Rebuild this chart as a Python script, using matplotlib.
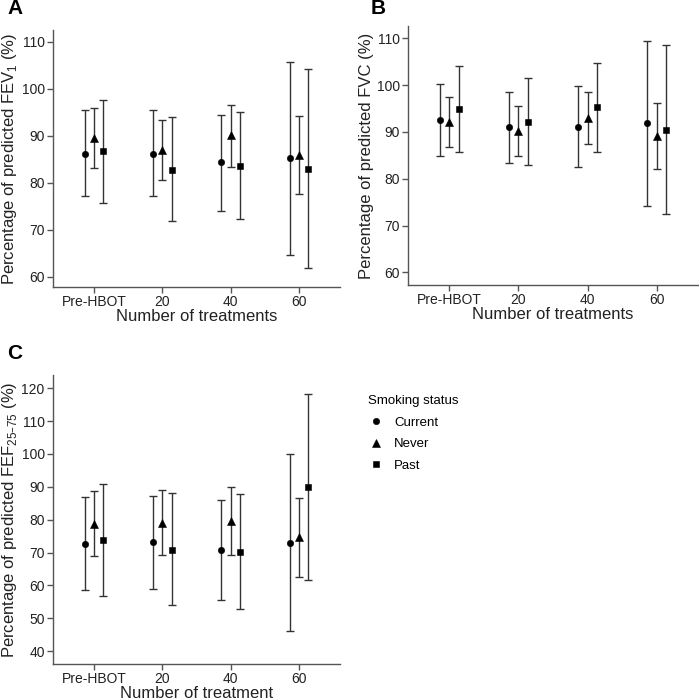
import matplotlib
matplotlib.use("Agg")
import matplotlib.pyplot as plt
from matplotlib.lines import Line2D
import numpy as np

plt.rcParams['font.family'] = ['Liberation Sans', 'DejaVu Sans']

categories = ["Pre-HBOT", "20", "40", "60"]
groups = ["Current", "Never", "Past"]

# Panel A: FEV1 (mean, lower, upper)
fev1_mean = {"Current": [86.2, 86.2, 84.3, 85.2],
             "Never":   [89.5, 87.0, 90.1, 86.0],
             "Past":    [86.7, 82.8, 83.6, 83.0]}
fev1_low = {"Current": [77.2, 77.2, 74.0, 64.7],
            "Never":   [83.1, 80.5, 83.3, 77.5],
            "Past":    [75.7, 71.8, 72.2, 61.8]}
fev1_high = {"Current": [95.4, 95.4, 94.5, 105.7],
             "Never":   [95.8, 93.3, 96.6, 94.1],
             "Past":    [97.6, 93.9, 95.0, 104.1]}

# Panel B: FVC
fvc_mean = {"Current": [92.5, 91.0, 91.1, 91.8],
            "Never":   [92.1, 90.2, 93.0, 89.2],
            "Past":    [94.9, 92.2, 95.2, 90.5]}
fvc_low = {"Current": [84.8, 83.4, 82.5, 74.2],
           "Never":   [86.7, 84.8, 87.3, 82.1],
           "Past":    [85.8, 82.9, 85.6, 72.4]}
fvc_high = {"Current": [100.2, 98.6, 99.7, 109.3],
            "Never":   [97.4, 95.5, 98.6, 96.2],
            "Past":    [104.1, 101.4, 104.8, 108.5]}

# Panel C: FEF25-75
fef_mean = {"Current": [72.6, 73.1, 70.7, 73.0],
            "Never":   [78.7, 79.1, 79.6, 74.7],
            "Past":    [73.8, 70.9, 70.2, 89.9]}
fef_low = {"Current": [58.5, 58.9, 55.5, 46.1],
           "Never":   [68.8, 69.2, 69.3, 62.6],
           "Past":    [56.7, 53.9, 52.8, 61.5]}
fef_high = {"Current": [86.8, 87.3, 86.1, 99.9],
            "Never":   [88.6, 89.1, 89.8, 86.6],
            "Past":    [90.8, 88.2, 87.7, 118.2]}

markers = {"Current": "o", "Never": "^", "Past": "s"}
msizes = {"Current": 4.6, "Never": 5.2, "Past": 4.3}
offsets = {"Current": -0.135, "Never": 0.0, "Past": 0.135}
ecol = "#333333"
spine_col = "#555555"

W, H = 699, 700
fig = plt.figure(figsize=(W / 100, H / 100), dpi=100)

def ax_at(l, t, r, b):
    return fig.add_axes([l / W, 1 - b / H, (r - l) / W, (b - t) / H])

def draw(ax, mean, low, high, ylim, yticks, ylabel, xlabel):
    x = np.arange(len(categories))
    for g in groups:
        m = np.array(mean[g]); lo = np.array(low[g]); hi = np.array(high[g])
        ax.errorbar(x + offsets[g], m, yerr=[m - lo, hi - m], fmt="none",
                    ecolor=ecol, elinewidth=1.0, capsize=3.0, capthick=1.0)
        ax.plot(x + offsets[g], m, linestyle="none", marker=markers[g],
                color="black", markersize=msizes[g], markeredgewidth=0.4,
                zorder=4)
    ax.set_xlim(-0.6, 3.6)
    ax.set_ylim(*ylim)
    ax.set_yticks(yticks)
    ax.set_xticks(x)
    ax.set_xticklabels(categories)
    for s in ["top", "right"]:
        ax.spines[s].set_visible(False)
    for s in ["left", "bottom"]:
        ax.spines[s].set_color(spine_col)
        ax.spines[s].set_linewidth(1.0)
    ax.tick_params(axis="both", direction="out", length=4, width=1.0,
                   color=spine_col, labelsize=10, labelcolor="#222222", pad=2)
    ax.set_ylabel(ylabel, fontsize=12, color="#222222", labelpad=1.5)
    ax.set_xlabel(xlabel, fontsize=12, color="#222222", labelpad=0)

axA = ax_at(53, 30, 340, 287)
draw(axA, fev1_mean, fev1_low, fev1_high, (57.8, 112.5), [60, 70, 80, 90, 100, 110],
     "Percentage of predicted FEV$_\\mathregular{1}$ (%)", "Number of treatments")
axB = ax_at(408, 26, 698, 285)
draw(axB, fvc_mean, fvc_low, fvc_high, (57.3, 112.6), [60, 70, 80, 90, 100, 110],
     "Percentage of predicted FVC (%)", "Number of treatments")
axC = ax_at(53, 375, 340, 664)
draw(axC, fef_mean, fef_low, fef_high, (36.1, 124.0), [40, 50, 60, 70, 80, 90, 100, 110, 120],
     "Percentage of predicted FEF$_\\mathregular{25–75}$ (%)", "Number of treatment")

fig.text(7 / W, 1 - 9 / H, "A", fontsize=15, fontweight="bold", va="center", ha="left")
fig.text(371 / W, 1 - 9 / H, "B", fontsize=15, fontweight="bold", va="center", ha="left")
fig.text(7 / W, 1 - 354 / H, "C", fontsize=15, fontweight="bold", va="center", ha="left")

handles = [Line2D([], [], linestyle="none", marker=markers[g], color="black",
                  markersize=msizes[g], markeredgewidth=0.4) for g in groups]
leg = fig.legend(handles, groups, title="Smoking status", loc="upper left",
                 bbox_to_anchor=(356 / W, 1 - 383 / H), frameon=False, fontsize=9.5,
                 title_fontsize=9.5, handlelength=1.2, handletextpad=0.8,
                 labelspacing=0.72, alignment="left")

fig.savefig("out.png", dpi=100)
